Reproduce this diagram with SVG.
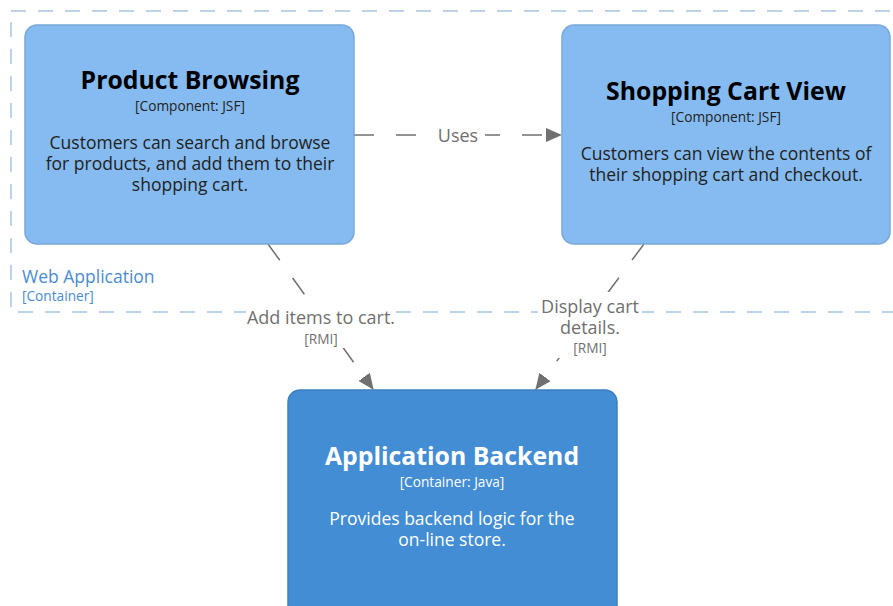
<svg xmlns="http://www.w3.org/2000/svg" width="893" height="606" viewBox="0 0 893 606">
<defs>
<style>
text{font-family:"Open Sans","Noto Sans","DejaVu Sans",sans-serif;text-anchor:middle}
.comp rect{fill:#85bbf0;stroke:#78a8d8;stroke-width:1.5}
.cont rect{fill:#438dd5;stroke:#3c7fc0;stroke-width:1.5}
.title{font-size:24.8px;font-weight:bold}
.meta{font-size:13.7px}
.desc{font-size:17.5px}
.comp text{fill:#000}
.comp .meta,.comp .desc{fill:#222}
.cont text{fill:#fff}
.edge{stroke:#707070;stroke-width:1.5;stroke-dasharray:20 22;fill:none}
.lbl{fill:#707070;font-size:18px}
.lblm{fill:#707070;font-size:13.7px}
.bg{fill:#fff}
</style>
<marker id="arr" markerWidth="16" markerHeight="14" refX="15" refY="7" orient="auto" markerUnits="userSpaceOnUse" viewBox="0 0 16 14">
<path d="M0,0 L16,7 L0,14 z" fill="#707070"/>
</marker>
</defs>
<rect width="893" height="606" fill="#fff"/>
<g id="boundary">
<rect x="11" y="11" width="900" height="301" fill="none" stroke="#a4c4e4" stroke-width="1.5" stroke-dasharray="15 12"/>
<text x="22" y="283" style="text-anchor:start;font-size:17.5px;fill:#4a8bd0">Web Application</text>
<text x="22" y="301" style="text-anchor:start;font-size:13.7px;fill:#4a8bd0">[Container]</text>
</g>
<g id="connectors">
<path class="edge" d="M354,135 L561,135" marker-end="url(#arr)"/>
<rect class="bg" x="431" y="124" width="54" height="24"/>
<text class="lbl" x="458" y="142">Uses</text>
<path class="edge" d="M268,244 L373,389" marker-end="url(#arr)"/>
<rect class="bg" x="246" y="302" width="150" height="46"/>
<text class="lbl" x="321" y="324">Add items to cart.</text>
<text class="lblm" x="321" y="344">[RMI]</text>
<path class="edge" d="M644,244 L536,389" marker-end="url(#arr)"/>
<rect class="bg" x="538" y="292" width="104" height="66"/>
<text class="lbl" x="590" y="313">Display cart</text>
<text class="lbl" x="590" y="334">details.</text>
<text class="lblm" x="590" y="353">[RMI]</text>
</g>
<g id="product-browsing" class="comp">
<rect x="25" y="25" width="329" height="219" rx="12"/>
<text class="title" x="190" y="89">Product Browsing</text>
<text class="meta" x="190" y="111">[Component: JSF]</text>
<text class="desc" x="190" y="149">Customers can search and browse</text>
<text class="desc" x="190" y="170">for products, and add them to their</text>
<text class="desc" x="190" y="191">shopping cart.</text>
</g>
<g id="shopping-cart-view" class="comp">
<rect x="562" y="25" width="328" height="219" rx="12"/>
<text class="title" x="726" y="100">Shopping Cart View</text>
<text class="meta" x="726" y="122">[Component: JSF]</text>
<text class="desc" x="726" y="160">Customers can view the contents of</text>
<text class="desc" x="726" y="181">their shopping cart and checkout.</text>
</g>
<g id="application-backend" class="cont">
<rect x="288" y="390" width="329" height="230" rx="12"/>
<text class="title" x="452" y="465">Application Backend</text>
<text class="meta" x="452" y="487">[Container: Java]</text>
<text class="desc" x="452" y="525">Provides backend logic for the</text>
<text class="desc" x="452" y="546">on-line store.</text>
</g>
</svg>
